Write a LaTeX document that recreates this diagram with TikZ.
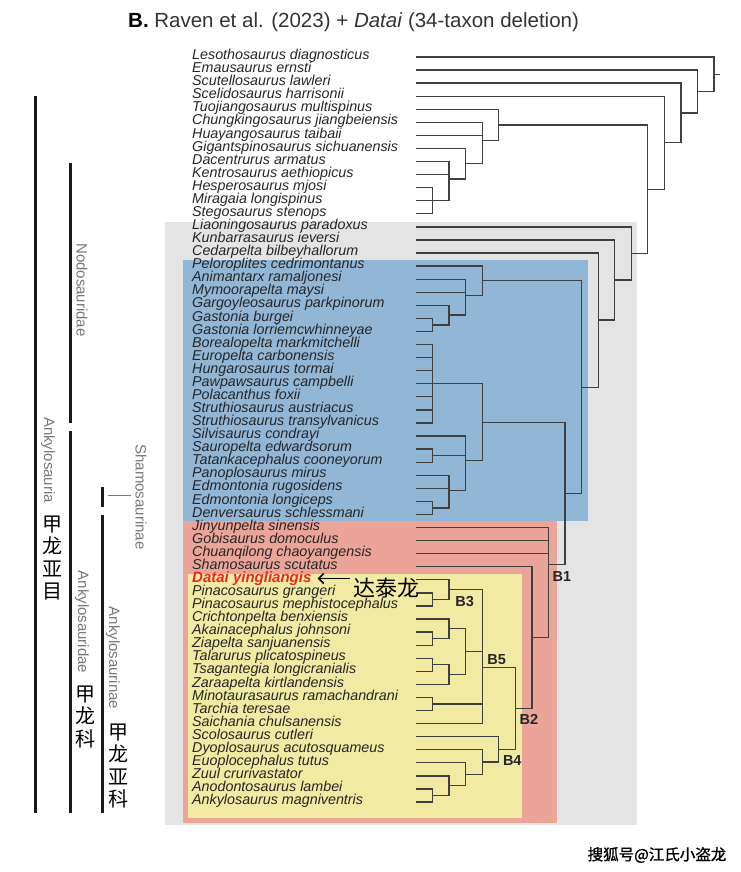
\documentclass[tikz,border=0pt]{standalone}
\usepackage{fontspec}
\setmainfont{Liberation Sans}
\newfontfamily\cjk{Noto Sans CJK SC}
\newfontfamily\cjkbold{Noto Sans CJK SC}[FakeBold=1.2]
\usetikzlibrary{arrows.meta}

\definecolor{gbox}{RGB}{228,228,228}
\definecolor{bbox}{RGB}{146,182,214}
\definecolor{rbox}{RGB}{234,164,152}
\definecolor{ybox}{RGB}{240,234,163}
\definecolor{datred}{RGB}{235,40,35}
\definecolor{cladegray}{RGB}{120,120,120}

\begin{document}
\begin{tikzpicture}[x=1pt,y=-1pt,
    taxon/.style={anchor=mid west, inner sep=0pt, text=black!85,
      font=\fontsize{14.3}{14.3}\selectfont\itshape},
    branch/.style={line width=1.3pt, black!75},
    bnode/.style={inner sep=0pt, text=black!85,
      font=\fontsize{14.5}{14.5}\selectfont\bfseries},
    bar/.style={line width=3pt, black!90},
    cladename/.style={rotate=-90, inner sep=0pt, text=cladegray,
      font=\fontsize{15}{15}\selectfont},
    cnname/.style={inner sep=0pt, align=center,
      font=\cjk\fontsize{20}{22.5}\selectfont}]
    \useasboundingbox (0,0) rectangle (740,872);

    % Title
    \node[anchor=west, inner sep=0pt, text=black!80, font=\fontsize{20.5}{20.5}\selectfont]
      (title) at (128,22) {\textcolor{black}{\textbf{B.}} Raven et al. (2023) + \textit{Datai} (34-taxon deletion)};

    % Coloured boxes
    \fill[gbox] (165,222) rectangle (637,825);
    \fill[bbox] (183,260) rectangle (588,521);
    \fill[rbox] (183,521) rectangle (557,823);
    \fill[ybox] (188,574) rectangle (522,818);

    % Tree: x in branch levels, y in rows
    \begin{scope}[xshift=416pt, yshift=-43.93pt, x=16.56pt, y=-13.07pt]
      % Taxa
      \foreach \name [count=\i] in {Lesothosaurus diagnosticus, Emausaurus ernsti,
          Scutellosaurus lawleri, Scelidosaurus harrisonii, Tuojiangosaurus multispinus,
          Chungkingosaurus jiangbeiensis, Huayangosaurus taibaii,
          Gigantspinosaurus sichuanensis, Dacentrurus armatus, Kentrosaurus aethiopicus,
          Hesperosaurus mjosi, Miragaia longispinus, Stegosaurus stenops,
          Liaoningosaurus paradoxus, Kunbarrasaurus ieversi, Cedarpelta bilbeyhallorum,
          Peloroplites cedrimontanus, Animantarx ramaljonesi, Mymoorapelta maysi,
          Gargoyleosaurus parkpinorum, Gastonia burgei, Gastonia lorriemcwhinneyae,
          Borealopelta markmitchelli, Europelta carbonensis, Hungarosaurus tormai,
          Pawpawsaurus campbelli, Polacanthus foxii, Struthiosaurus austriacus,
          Struthiosaurus transylvanicus, Silvisaurus condrayi, Sauropelta edwardsorum,
          Tatankacephalus cooneyorum, Panoplosaurus mirus, Edmontonia rugosidens,
          Edmontonia longiceps, Denversaurus schlessmani, Jinyunpelta sinensis,
          Gobisaurus domoculus, Chuanqilong chaoyangensis, Shamosaurus scutatus,
          {\color{datred}\bfseries\fontsize{15}{15}\selectfont Datai yingliangis},
          Pinacosaurus grangeri, Pinacosaurus mephistocephalus, Crichtonpelta benxiensis,
          Akainacephalus johnsoni, Ziapelta sanjuanensis, Talarurus plicatospineus,
          Tsagantegia longicranialis, Zaraapelta kirtlandensis,
          Minotaurasaurus ramachandrani, Tarchia teresae, Saichania chulsanensis,
          Scolosaurus cutleri, Dyoplosaurus acutosquameus, Euoplocephalus tutus,
          Zuul crurivastator, Anodontosaurus lambei, Ankylosaurus magniventris} {
        \coordinate (t\i) at (0,\i);
        \node[taxon] (tx\i) at ([xshift=-224pt]t\i) {\name};
      }

      % Stegosauria
      \coordinate (s1) at (1,12);
      \coordinate (s2) at (2,10.333);
      \coordinate (s3) at (3,9.167);
      \coordinate (s4) at (4,7.389);
      \coordinate (s5) at (5,6.194);
      \foreach \c/\p in {t11/s1,t12/s1,t13/s1,t9/s2,t10/s2,s1/s2,t8/s3,s2/s3,
          t6/s4,t7/s4,s3/s4,t5/s5,s4/s5}
        \draw[branch] (\c) -| (\p);

      % Nodosaurids
      \coordinate (n1) at (1,21.5);
      \coordinate (n2) at (2,20.75);
      \coordinate (n3) at (3,19.25);
      \coordinate (n4) at (4,18.125);
      \coordinate (n5) at (1,26);
      \coordinate (n6) at (1,31.5);
      \coordinate (n7) at (1,35.5);
      \coordinate (n8) at (2,34.167);
      \coordinate (n9) at (3,31.889);
      \coordinate (n10) at (4,28.944);
      \foreach \c/\p in {t21/n1,t22/n1,t20/n2,n1/n2,t18/n3,t19/n3,n2/n3,t17/n4,n3/n4,
          t23/n5,t24/n5,t25/n5,t26/n5,t27/n5,t28/n5,t29/n5,t31/n6,t32/n6,t35/n7,t36/n7,
          t33/n8,t34/n8,n7/n8,t30/n9,n6/n9,n8/n9,n5/n10,n9/n10}
        \draw[branch] (\c) -| (\p);

      % Ankylosaurids
      \coordinate (a1) at (1,42.5);
      \coordinate (b3) at (2,41.75);
      \coordinate (a2) at (1,45.5);
      \coordinate (a3) at (2,44.75);
      \coordinate (a4) at (1,47.5);
      \coordinate (a5) at (2,48.25);
      \coordinate (a6) at (3,46.5);
      \coordinate (a7) at (1,50.5);
      \coordinate (b5) at (4,47.688);
      \coordinate (a8) at (1,57.5);
      \coordinate (a9) at (2,56.75);
      \coordinate (a10) at (3,55.875);
      \coordinate (a11) at (4,54.938);
      \coordinate (b4) at (5,53.969);
      \coordinate (b2) at (6,50.828);
      \coordinate (a12) at (7,45.414);
      \coordinate (b1) at (8,39.854);
      \foreach \c/\p in {t42/a1,t43/a1,t41/b3,a1/b3,t45/a2,t46/a2,t44/a3,a2/a3,
          t47/a4,t48/a4,a4/a5,t49/a5,a3/a6,a5/a6,t50/a7,t51/a7,
          b3/b5,a6/b5,a7/b5,t52/b5,t57/a8,t58/a8,t56/a9,a8/a9,t55/a10,a9/a10,
          t54/a11,a10/a11,t53/b4,a11/b4,b5/b2,b4/b2,t40/a12,b2/a12,
          t37/b1,t38/b1,t39/b1,a12/b1}
        \draw[branch] (\c) -| (\p);

      % Backbone
      \coordinate (k9) at (9,34.399);
      \coordinate (k10) at (10,26.262);
      \coordinate (k11) at (11,21.131);
      \coordinate (k12) at (12,18.066);
      \coordinate (k13) at (13,16.033);
      \coordinate (k14) at (14,11.114);
      \coordinate (k15) at (15,7.557);
      \coordinate (k16) at (16,5.278);
      \coordinate (k17) at (17,3.639);
      \coordinate (root) at (18,2.320);
      \coordinate (stub) at (18.36,2.320);
      \foreach \c/\p in {n10/k9,b1/k9,n4/k10,k9/k10,t16/k11,k10/k11,t15/k12,k11/k12,
          t14/k13,k12/k13,s5/k14,k13/k14,t4/k15,k14/k15,t3/k16,k15/k16,
          t2/k17,k16/k17,t1/root,k17/root}
        \draw[branch] (\c) -| (\p);
      \draw[branch] (root) -- (stub);

      % Node labels
      \node[bnode, anchor=north west] (lb1) at ([xshift=4pt,yshift=-6pt]b1) {B1};
      \node[bnode, anchor=north west] (lb2) at ([xshift=4pt,yshift=-6pt]b2) {B2};
      \node[bnode, anchor=north west] (lb3) at ([xshift=6pt,yshift=-7pt]b3) {B3};
      \node[bnode, anchor=north west] (lb4) at ([xshift=4pt,yshift=-6pt]b4) {B4};
      \node[bnode, anchor=south west] (lb5) at ([xshift=5pt,yshift=2pt]b5) {B5};
    \end{scope}

    % Datai pointer
    \node[inner sep=0pt, font=\cjk\fontsize{22}{22}\selectfont] (dtl) at (386,588) {达泰龙};
    \draw[line width=1.6pt, -{Straight Barb[length=5pt,width=10pt]}, shorten <=3pt, shorten >=6pt]
      (dtl.west |- tx41.east) -- (tx41.east);

    % Clade bars
    \draw[bar] (35,96) -- (35,813);
    \draw[bar] (70,163) -- (70,423);
    \draw[bar] (70,431) -- (70,813);
    \draw[bar] (102,487) -- (102,507);
    \draw[bar] (102,515) -- (102,813);

    % Clade names
    \node[cladename] (cl1) at (48,460) {Ankylosauria};
    \node[cladename] (cl2) at (82,290) {Nodosauridae};
    \node[cladename] (cl3) at (141,497) {Shamosaurinae};
    \node[cladename] (cl4) at (82,622) {Ankylosauridae};
    \node[cladename] (cl5) at (113,658) {Ankylosaurinae};
    \draw[cladegray, line width=0.8pt, shorten >=4pt] (108,495) -- (cl3.south |- 108,495);

    \node[cnname] (zh1) at (52,558) {甲\\龙\\亚\\目};
    \node[cnname] (zh2) at (85,717) {甲\\龙\\科};
    \node[cnname] (zh3) at (118,766) {甲\\龙\\亚\\科};

    % Watermark
    \node[inner sep=0pt, font=\cjkbold\fontsize{15.5}{15.5}\selectfont] (wm) at (657,855) {搜狐号@江氏小盗龙};
\end{tikzpicture}
\end{document}
